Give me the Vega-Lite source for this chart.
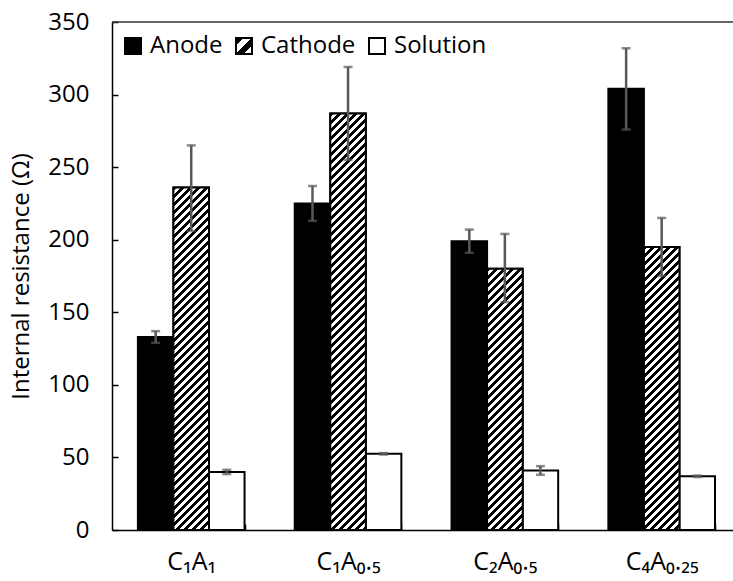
{
  "$schema": "https://vega.github.io/schema/vega-lite/v6.json",
  "width": 621,
  "height": 508,
  "autosize": {"type": "none"},
  "padding": {"left": 112, "top": 22, "right": 0, "bottom": 51},
  "background": "white",
  "config": {
    "view": {"stroke": null},
    "font": "Open Sans",
    "axis": {
      "labelFont": "Open Sans, Noto Sans, DejaVu Sans",
      "titleFont": "Open Sans",
      "labelColor": "#000",
      "titleColor": "#000",
      "domainColor": "#000",
      "tickColor": "#000",
      "domainWidth": 1.5,
      "tickWidth": 1.5,
      "grid": false,
      "titleFontWeight": "normal"
    }
  },
  "params": [
    {
      "name": "hatch",
      "value": [
        {"offset": 0, "color": "#000"}, {"offset": 0.006, "color": "#000"}, {"offset": 0.006, "color": "#fff"}, {"offset": 0.0125, "color": "#fff"},
        {"offset": 0.0125, "color": "#000"}, {"offset": 0.0185, "color": "#000"}, {"offset": 0.0185, "color": "#fff"}, {"offset": 0.025, "color": "#fff"},
        {"offset": 0.025, "color": "#000"}, {"offset": 0.031, "color": "#000"}, {"offset": 0.031, "color": "#fff"}, {"offset": 0.0375, "color": "#fff"},
        {"offset": 0.0375, "color": "#000"}, {"offset": 0.0435, "color": "#000"}, {"offset": 0.0435, "color": "#fff"}, {"offset": 0.05, "color": "#fff"},
        {"offset": 0.05, "color": "#000"}, {"offset": 0.056, "color": "#000"}, {"offset": 0.056, "color": "#fff"}, {"offset": 0.0625, "color": "#fff"},
        {"offset": 0.0625, "color": "#000"}, {"offset": 0.0685, "color": "#000"}, {"offset": 0.0685, "color": "#fff"}, {"offset": 0.075, "color": "#fff"},
        {"offset": 0.075, "color": "#000"}, {"offset": 0.081, "color": "#000"}, {"offset": 0.081, "color": "#fff"}, {"offset": 0.0875, "color": "#fff"},
        {"offset": 0.0875, "color": "#000"}, {"offset": 0.0935, "color": "#000"}, {"offset": 0.0935, "color": "#fff"}, {"offset": 0.1, "color": "#fff"},
        {"offset": 0.1, "color": "#000"}, {"offset": 0.106, "color": "#000"}, {"offset": 0.106, "color": "#fff"}, {"offset": 0.1125, "color": "#fff"},
        {"offset": 0.1125, "color": "#000"}, {"offset": 0.1185, "color": "#000"}, {"offset": 0.1185, "color": "#fff"}, {"offset": 0.125, "color": "#fff"},
        {"offset": 0.125, "color": "#000"}, {"offset": 0.131, "color": "#000"}, {"offset": 0.131, "color": "#fff"}, {"offset": 0.1375, "color": "#fff"},
        {"offset": 0.1375, "color": "#000"}, {"offset": 0.1435, "color": "#000"}, {"offset": 0.1435, "color": "#fff"}, {"offset": 0.15, "color": "#fff"},
        {"offset": 0.15, "color": "#000"}, {"offset": 0.156, "color": "#000"}, {"offset": 0.156, "color": "#fff"}, {"offset": 0.1625, "color": "#fff"},
        {"offset": 0.1625, "color": "#000"}, {"offset": 0.1685, "color": "#000"}, {"offset": 0.1685, "color": "#fff"}, {"offset": 0.175, "color": "#fff"},
        {"offset": 0.175, "color": "#000"}, {"offset": 0.181, "color": "#000"}, {"offset": 0.181, "color": "#fff"}, {"offset": 0.1875, "color": "#fff"},
        {"offset": 0.1875, "color": "#000"}, {"offset": 0.1935, "color": "#000"}, {"offset": 0.1935, "color": "#fff"}, {"offset": 0.2, "color": "#fff"},
        {"offset": 0.2, "color": "#000"}, {"offset": 0.206, "color": "#000"}, {"offset": 0.206, "color": "#fff"}, {"offset": 0.2125, "color": "#fff"},
        {"offset": 0.2125, "color": "#000"}, {"offset": 0.2185, "color": "#000"}, {"offset": 0.2185, "color": "#fff"}, {"offset": 0.225, "color": "#fff"},
        {"offset": 0.225, "color": "#000"}, {"offset": 0.231, "color": "#000"}, {"offset": 0.231, "color": "#fff"}, {"offset": 0.2375, "color": "#fff"},
        {"offset": 0.2375, "color": "#000"}, {"offset": 0.2435, "color": "#000"}, {"offset": 0.2435, "color": "#fff"}, {"offset": 0.25, "color": "#fff"},
        {"offset": 0.25, "color": "#000"}, {"offset": 0.256, "color": "#000"}, {"offset": 0.256, "color": "#fff"}, {"offset": 0.2625, "color": "#fff"},
        {"offset": 0.2625, "color": "#000"}, {"offset": 0.2685, "color": "#000"}, {"offset": 0.2685, "color": "#fff"}, {"offset": 0.275, "color": "#fff"},
        {"offset": 0.275, "color": "#000"}, {"offset": 0.281, "color": "#000"}, {"offset": 0.281, "color": "#fff"}, {"offset": 0.2875, "color": "#fff"},
        {"offset": 0.2875, "color": "#000"}, {"offset": 0.2935, "color": "#000"}, {"offset": 0.2935, "color": "#fff"}, {"offset": 0.3, "color": "#fff"},
        {"offset": 0.3, "color": "#000"}, {"offset": 0.306, "color": "#000"}, {"offset": 0.306, "color": "#fff"}, {"offset": 0.3125, "color": "#fff"},
        {"offset": 0.3125, "color": "#000"}, {"offset": 0.3185, "color": "#000"}, {"offset": 0.3185, "color": "#fff"}, {"offset": 0.325, "color": "#fff"},
        {"offset": 0.325, "color": "#000"}, {"offset": 0.331, "color": "#000"}, {"offset": 0.331, "color": "#fff"}, {"offset": 0.3375, "color": "#fff"},
        {"offset": 0.3375, "color": "#000"}, {"offset": 0.3435, "color": "#000"}, {"offset": 0.3435, "color": "#fff"}, {"offset": 0.35, "color": "#fff"},
        {"offset": 0.35, "color": "#000"}, {"offset": 0.356, "color": "#000"}, {"offset": 0.356, "color": "#fff"}, {"offset": 0.3625, "color": "#fff"},
        {"offset": 0.3625, "color": "#000"}, {"offset": 0.3685, "color": "#000"}, {"offset": 0.3685, "color": "#fff"}, {"offset": 0.375, "color": "#fff"},
        {"offset": 0.375, "color": "#000"}, {"offset": 0.381, "color": "#000"}, {"offset": 0.381, "color": "#fff"}, {"offset": 0.3875, "color": "#fff"},
        {"offset": 0.3875, "color": "#000"}, {"offset": 0.3935, "color": "#000"}, {"offset": 0.3935, "color": "#fff"}, {"offset": 0.4, "color": "#fff"},
        {"offset": 0.4, "color": "#000"}, {"offset": 0.406, "color": "#000"}, {"offset": 0.406, "color": "#fff"}, {"offset": 0.4125, "color": "#fff"},
        {"offset": 0.4125, "color": "#000"}, {"offset": 0.4185, "color": "#000"}, {"offset": 0.4185, "color": "#fff"}, {"offset": 0.425, "color": "#fff"},
        {"offset": 0.425, "color": "#000"}, {"offset": 0.431, "color": "#000"}, {"offset": 0.431, "color": "#fff"}, {"offset": 0.4375, "color": "#fff"},
        {"offset": 0.4375, "color": "#000"}, {"offset": 0.4435, "color": "#000"}, {"offset": 0.4435, "color": "#fff"}, {"offset": 0.45, "color": "#fff"},
        {"offset": 0.45, "color": "#000"}, {"offset": 0.456, "color": "#000"}, {"offset": 0.456, "color": "#fff"}, {"offset": 0.4625, "color": "#fff"},
        {"offset": 0.4625, "color": "#000"}, {"offset": 0.4685, "color": "#000"}, {"offset": 0.4685, "color": "#fff"}, {"offset": 0.475, "color": "#fff"},
        {"offset": 0.475, "color": "#000"}, {"offset": 0.481, "color": "#000"}, {"offset": 0.481, "color": "#fff"}, {"offset": 0.4875, "color": "#fff"},
        {"offset": 0.4875, "color": "#000"}, {"offset": 0.4935, "color": "#000"}, {"offset": 0.4935, "color": "#fff"}, {"offset": 0.5, "color": "#fff"},
        {"offset": 0.5, "color": "#000"}, {"offset": 0.506, "color": "#000"}, {"offset": 0.506, "color": "#fff"}, {"offset": 0.5125, "color": "#fff"},
        {"offset": 0.5125, "color": "#000"}, {"offset": 0.5185, "color": "#000"}, {"offset": 0.5185, "color": "#fff"}, {"offset": 0.525, "color": "#fff"},
        {"offset": 0.525, "color": "#000"}, {"offset": 0.531, "color": "#000"}, {"offset": 0.531, "color": "#fff"}, {"offset": 0.5375, "color": "#fff"},
        {"offset": 0.5375, "color": "#000"}, {"offset": 0.5435, "color": "#000"}, {"offset": 0.5435, "color": "#fff"}, {"offset": 0.55, "color": "#fff"},
        {"offset": 0.55, "color": "#000"}, {"offset": 0.556, "color": "#000"}, {"offset": 0.556, "color": "#fff"}, {"offset": 0.5625, "color": "#fff"},
        {"offset": 0.5625, "color": "#000"}, {"offset": 0.5685, "color": "#000"}, {"offset": 0.5685, "color": "#fff"}, {"offset": 0.575, "color": "#fff"},
        {"offset": 0.575, "color": "#000"}, {"offset": 0.581, "color": "#000"}, {"offset": 0.581, "color": "#fff"}, {"offset": 0.5875, "color": "#fff"},
        {"offset": 0.5875, "color": "#000"}, {"offset": 0.5935, "color": "#000"}, {"offset": 0.5935, "color": "#fff"}, {"offset": 0.6, "color": "#fff"},
        {"offset": 0.6, "color": "#000"}, {"offset": 0.606, "color": "#000"}, {"offset": 0.606, "color": "#fff"}, {"offset": 0.6125, "color": "#fff"},
        {"offset": 0.6125, "color": "#000"}, {"offset": 0.6185, "color": "#000"}, {"offset": 0.6185, "color": "#fff"}, {"offset": 0.625, "color": "#fff"},
        {"offset": 0.625, "color": "#000"}, {"offset": 0.631, "color": "#000"}, {"offset": 0.631, "color": "#fff"}, {"offset": 0.6375, "color": "#fff"},
        {"offset": 0.6375, "color": "#000"}, {"offset": 0.6435, "color": "#000"}, {"offset": 0.6435, "color": "#fff"}, {"offset": 0.65, "color": "#fff"},
        {"offset": 0.65, "color": "#000"}, {"offset": 0.656, "color": "#000"}, {"offset": 0.656, "color": "#fff"}, {"offset": 0.6625, "color": "#fff"},
        {"offset": 0.6625, "color": "#000"}, {"offset": 0.6685, "color": "#000"}, {"offset": 0.6685, "color": "#fff"}, {"offset": 0.675, "color": "#fff"},
        {"offset": 0.675, "color": "#000"}, {"offset": 0.681, "color": "#000"}, {"offset": 0.681, "color": "#fff"}, {"offset": 0.6875, "color": "#fff"},
        {"offset": 0.6875, "color": "#000"}, {"offset": 0.6935, "color": "#000"}, {"offset": 0.6935, "color": "#fff"}, {"offset": 0.7, "color": "#fff"},
        {"offset": 0.7, "color": "#000"}, {"offset": 0.706, "color": "#000"}, {"offset": 0.706, "color": "#fff"}, {"offset": 0.7125, "color": "#fff"},
        {"offset": 0.7125, "color": "#000"}, {"offset": 0.7185, "color": "#000"}, {"offset": 0.7185, "color": "#fff"}, {"offset": 0.725, "color": "#fff"}
      ]
    }
  ],
  "data": {
    "values": [
      {"group": "C₁A₁", "type": "Anode", "value": 133, "lo": 129, "hi": 137},
      {"group": "C₁A₁", "type": "Cathode", "value": 236, "lo": 206, "hi": 265},
      {"group": "C₁A₁", "type": "Solution", "value": 40, "lo": 38.5, "hi": 41.5},
      {"group": "C₁A₀.₅", "type": "Anode", "value": 225, "lo": 213, "hi": 237},
      {"group": "C₁A₀.₅", "type": "Cathode", "value": 287, "lo": 255, "hi": 319},
      {"group": "C₁A₀.₅", "type": "Solution", "value": 52.5, "lo": 52, "hi": 53},
      {"group": "C₂A₀.₅", "type": "Anode", "value": 199, "lo": 191, "hi": 207},
      {"group": "C₂A₀.₅", "type": "Cathode", "value": 180, "lo": 157, "hi": 204},
      {"group": "C₂A₀.₅", "type": "Solution", "value": 41, "lo": 38, "hi": 44},
      {"group": "C₄A₀.₂₅", "type": "Anode", "value": 304, "lo": 276, "hi": 332},
      {"group": "C₄A₀.₂₅", "type": "Cathode", "value": 195, "lo": 175, "hi": 215},
      {"group": "C₄A₀.₂₅", "type": "Solution", "value": 37, "lo": 36.5, "hi": 37.5}
    ]
  },
  "layer": [
    {
      "mark": {"type": "bar", "stroke": "#000", "strokeWidth": 2},
      "encoding": {
        "x": {
          "field": "group", "type": "nominal", "sort": null,
          "scale": {"paddingInner": 0.32, "paddingOuter": 0.14, "align": 0.59},
          "axis": {"title": null, "labelAngle": 0, "labelFontSize": 25, "labelPadding": 25, "tickBand": "extent", "tickSize": -6}
        },
        "xOffset": {"field": "type", "type": "nominal", "sort": ["Anode", "Cathode", "Solution"], "scale": {"paddingInner": 0, "paddingOuter": 0}},
        "y": {
          "field": "value", "type": "quantitative", "stack": null,
          "scale": {"domain": [0, 350], "nice": false},
          "axis": {"title": "Internal resistance (Ω)", "titleFontSize": 24, "values": [0, 50, 100, 150, 200, 250, 300, 350], "labelFontSize": 24, "tickSize": -6, "labelPadding": 29, "titlePadding": 14}
        },
        "fill": {
          "field": "type", "type": "nominal",
          "scale": {"domain": ["Anode", "Cathode", "Solution"], "range": ["#000000", {"expr": "{gradient: 'linear', x1: 0, y1: 0, x2: 40, y2: 40, stops: hatch}"}, "#ffffff"]},
          "legend": {
            "title": null, "orient": "none", "legendX": 9, "legendY": 12, "direction": "horizontal",
            "symbolType": "square", "symbolSize": 256, "symbolStrokeColor": "#000", "symbolStrokeWidth": 2,
            "labelFontSize": 24, "labelFont": "Open Sans", "labelColor": "#000", "labelOffset": 5, "columnPadding": 9, "padding": 0,
            "encode": {"symbols": {"update": {"stroke": {"value": "#000"}}}}
          }
        }
      }
    },
    {
      "transform": [{"filter": "datum.type === 'Cathode'"}],
      "mark": {
        "type": "bar", "stroke": "#000", "strokeWidth": 2,
        "fill": {"expr": "{gradient: 'linear', x1: 0, y1: 0, x2: 35.5*640/(1260+pow(1.4514*datum.value,2)), y2: 1.4514*datum.value*640/(1260+pow(1.4514*datum.value,2)), stops: hatch}"}
      },
      "encoding": {
        "x": {"field": "group", "type": "nominal", "sort": null},
        "xOffset": {"field": "type", "type": "nominal", "sort": ["Anode", "Cathode", "Solution"]},
        "y": {"field": "value", "type": "quantitative", "stack": null}
      }
    },
    {
      "data": {"values": [{}]},
      "mark": {"type": "rule", "color": "#333", "strokeWidth": 1.5},
      "encoding": {"y": {"datum": 350}}
    },
    {
      "mark": {"type": "rule", "color": "#595959", "strokeWidth": 2.5},
      "encoding": {
        "x": {"field": "group", "type": "nominal", "sort": null},
        "xOffset": {"field": "type", "type": "nominal", "sort": ["Anode", "Cathode", "Solution"]},
        "y": {"field": "lo", "type": "quantitative"},
        "y2": {"field": "hi"}
      }
    },
    {
      "mark": {"type": "tick", "orient": "horizontal", "color": "#595959", "thickness": 2.5, "size": 9},
      "encoding": {
        "x": {"field": "group", "type": "nominal", "sort": null},
        "xOffset": {"field": "type", "type": "nominal", "sort": ["Anode", "Cathode", "Solution"]},
        "y": {"field": "hi", "type": "quantitative"}
      }
    },
    {
      "mark": {"type": "tick", "orient": "horizontal", "color": "#595959", "thickness": 2.5, "size": 9},
      "encoding": {
        "x": {"field": "group", "type": "nominal", "sort": null},
        "xOffset": {"field": "type", "type": "nominal", "sort": ["Anode", "Cathode", "Solution"]},
        "y": {"field": "lo", "type": "quantitative"}
      }
    }
  ]
}
